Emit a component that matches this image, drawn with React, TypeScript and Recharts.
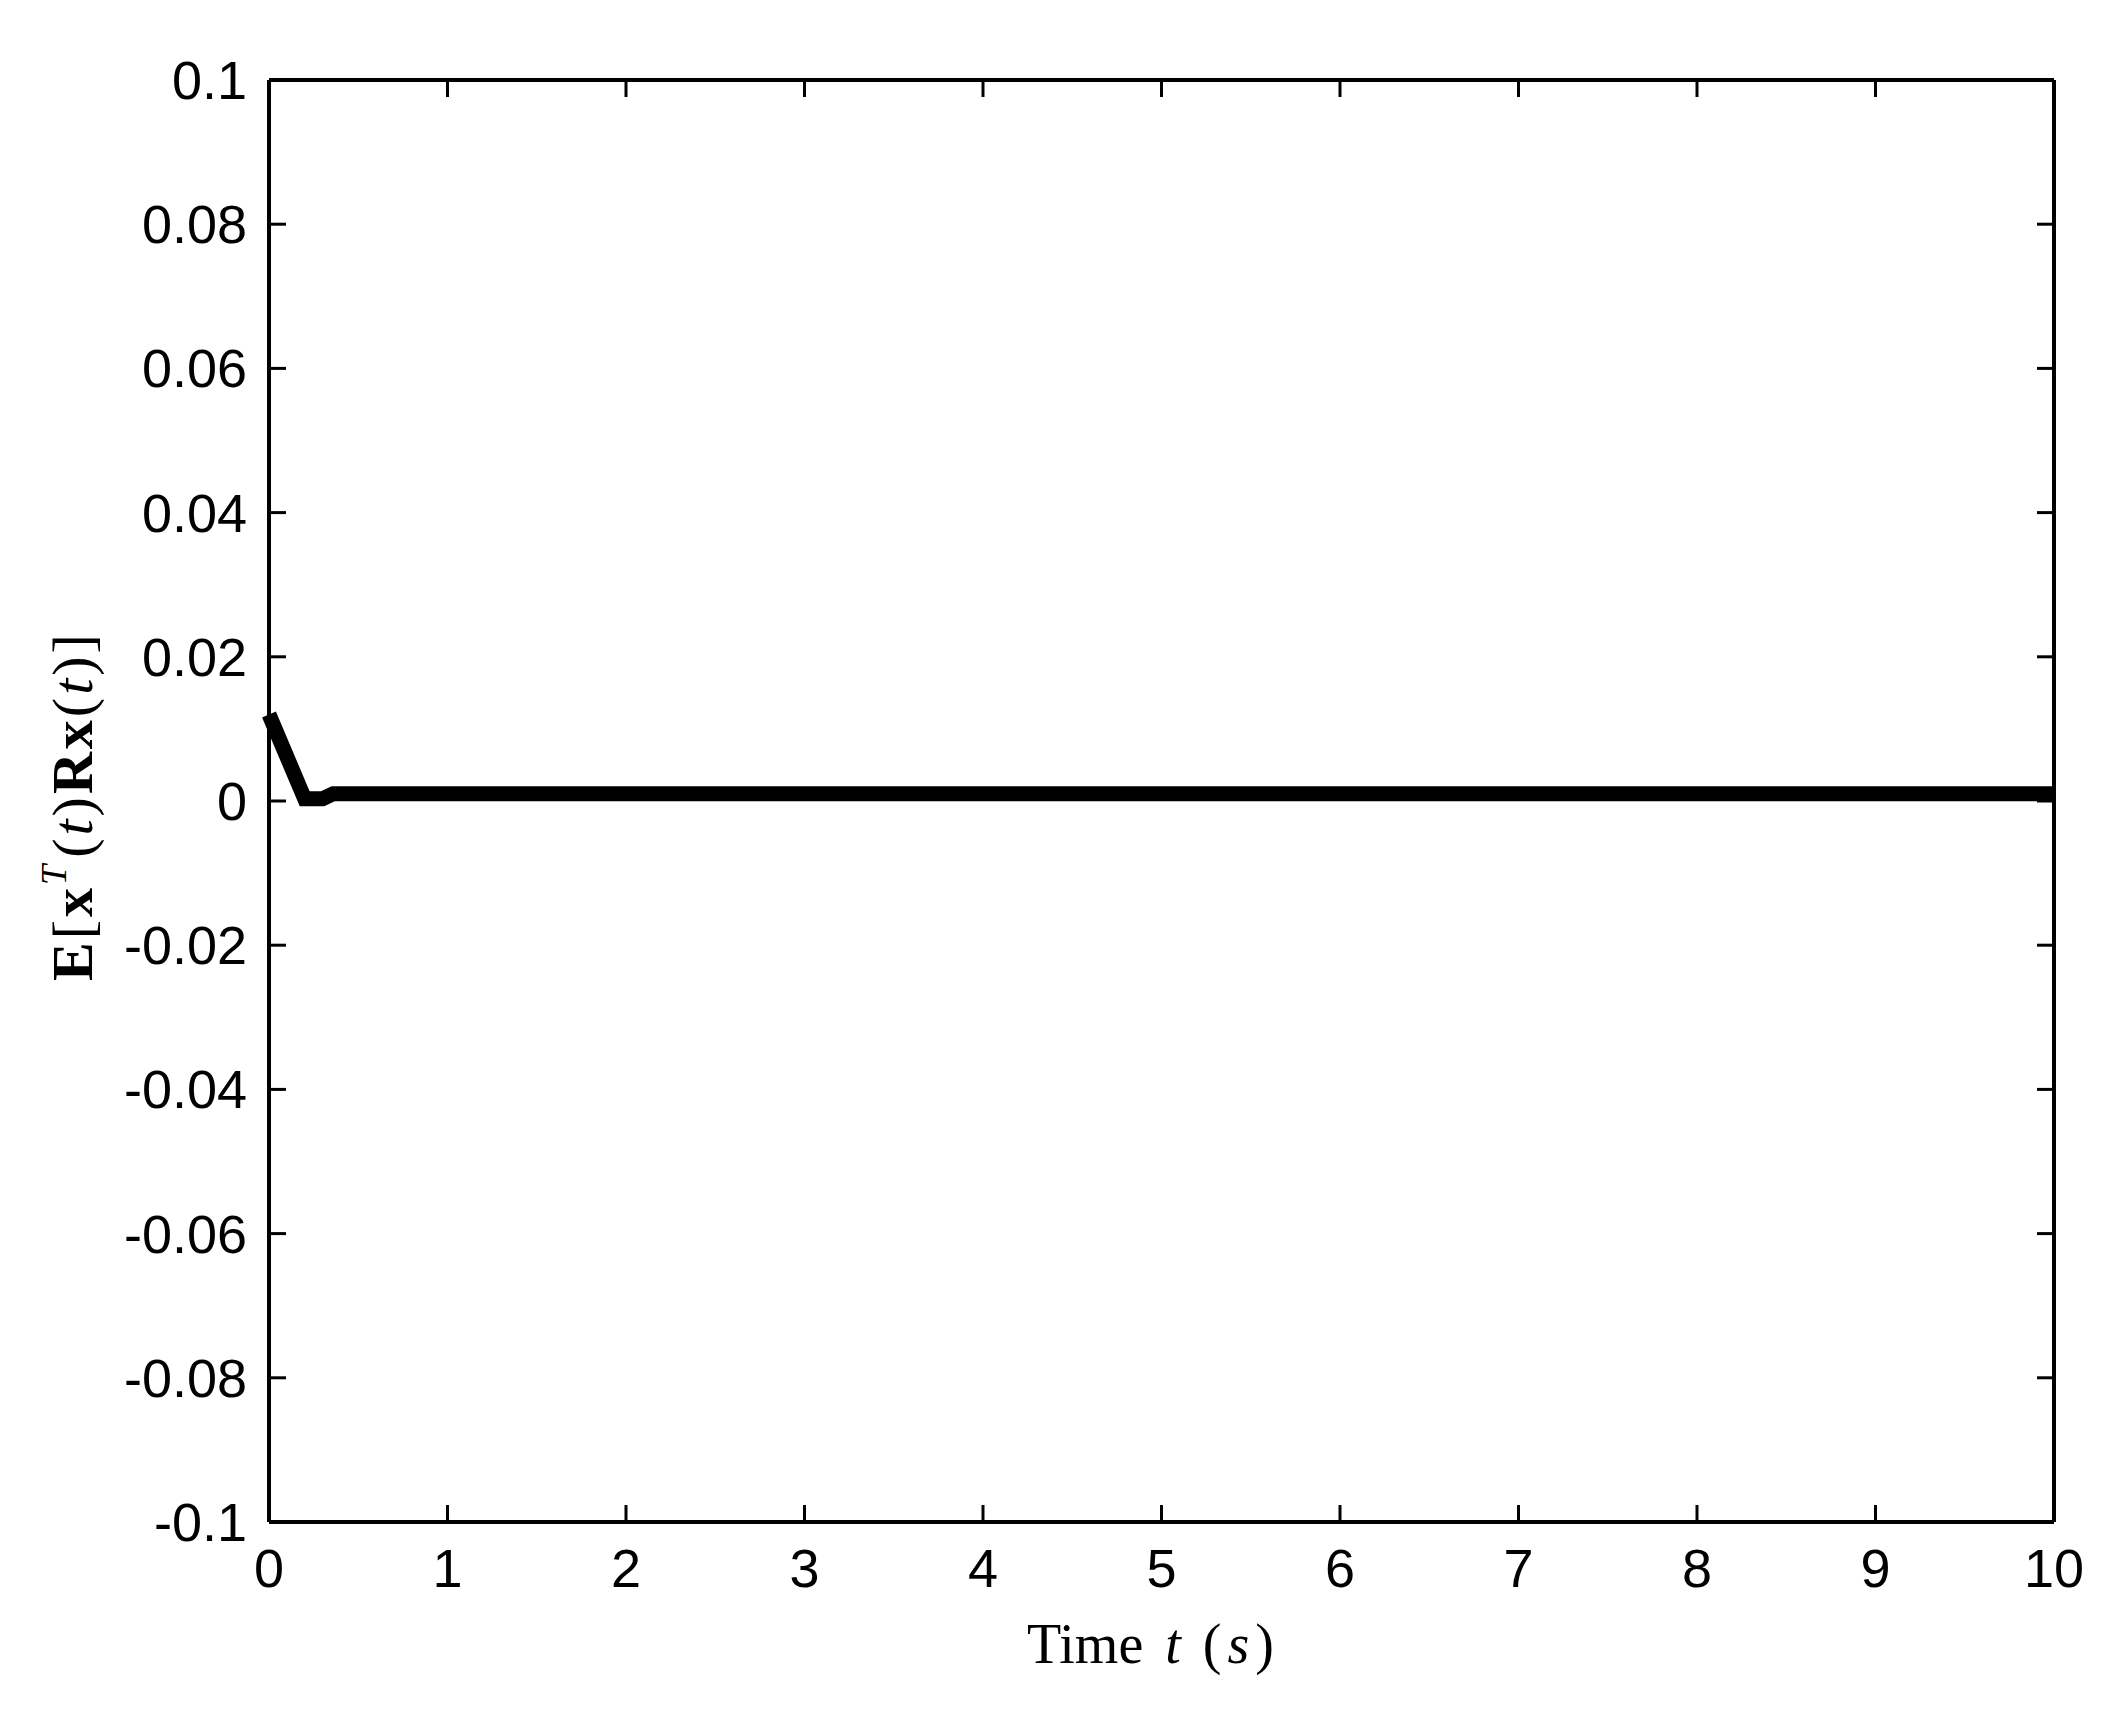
import React from "react";
import { LineChart, Line, XAxis, YAxis, Label } from "recharts";

// curve: short drop to ~0, then flat just above zero
const timeS = [0, 0.2, 0.3, 0.36, 1, 2, 3, 4, 5, 6, 7, 8, 9, 10];
const energy = [0.012, 0.0003, 0.0003, 0.001, 0.001, 0.001, 0.001, 0.001, 0.001, 0.001, 0.001, 0.001, 0.001, 0.001];
const xTicks = [0, 1, 2, 3, 4, 5, 6, 7, 8, 9, 10];
const yTicks = [-0.1, -0.08, -0.06, -0.04, -0.02, 0, 0.02, 0.04, 0.06, 0.08, 0.1];

const data = timeS.map((t, i) => ({ t, v: energy[i] }));

const TICK = 17;
const SANS = "'Liberation Sans', Arial, sans-serif";
const SERIF = "'Liberation Serif', 'Times New Roman', serif";

const BottomTick = (p: any) => (
  <g>
    <line x1={p.x} y1={p.y} x2={p.x} y2={p.y - TICK} stroke="#000" strokeWidth={3} />
    <text x={p.x} y={p.y + 65} textAnchor="middle" fontSize={54} fontFamily={SANS} fill="#000">
      {p.payload.value}
    </text>
  </g>
);

const TopTick = (p: any) => (
  <line x1={p.x} y1={p.y} x2={p.x} y2={p.y + TICK} stroke="#000" strokeWidth={3} />
);

const LeftTick = (p: any) => (
  <g>
    <line x1={p.x} y1={p.y} x2={p.x + TICK} y2={p.y} stroke="#000" strokeWidth={3} />
    <text x={p.x - 22} y={p.y + 19} textAnchor="end" fontSize={54} fontFamily={SANS} fill="#000">
      {String(p.payload.value)}
    </text>
  </g>
);

const RightTick = (p: any) => (
  <line x1={p.x} y1={p.y} x2={p.x - TICK} y2={p.y} stroke="#000" strokeWidth={3} />
);

const XTitle = (p: any) => {
  const vb = p.viewBox;
  const cx = vb.x + vb.width / 2 - 11;
  return (
    <text x={cx} y={vb.y + 141} textAnchor="middle" fontSize={56} fontFamily={SERIF} fill="#000">
      Time
      <tspan dx={22} fontStyle="italic">t</tspan>
      <tspan dx={22}>(</tspan>
      <tspan dx={6} fontStyle="italic">s</tspan>
      <tspan dx={6}>)</tspan>
    </text>
  );
};

const YTitle = (p: any) => {
  const vb = p.viewBox;
  const cx = 92;
  const cy = vb.y + vb.height / 2 + 5;
  return (
    <text
      x={cx}
      y={cy}
      transform={`rotate(-90 ${cx} ${cy})`}
      textAnchor="middle"
      fontSize={58}
      fontFamily={SERIF}
      fill="#000"
      letterSpacing={3}
    >
      <tspan fontWeight="bold">E</tspan>
      <tspan>[</tspan>
      <tspan fontWeight="bold">x</tspan>
      <tspan fontSize={36} fontStyle="italic" dy={-26}>T</tspan>
      <tspan dy={26} dx={4}>(</tspan>
      <tspan fontStyle="italic">t</tspan>
      <tspan>)</tspan>
      <tspan fontWeight="bold">Rx</tspan>
      <tspan>(</tspan>
      <tspan fontStyle="italic">t</tspan>
      <tspan>)]</tspan>
    </text>
  );
};

const frame = { stroke: "#000", strokeWidth: 4 };

export default function App() {
  return (
    <div style={{ position: "absolute", left: 0, top: 0, background: "#fff" }}>
      <LineChart width={2120} height={1724} data={data} margin={{ top: 79, right: 65, left: 0, bottom: 0 }}>
        <XAxis
          xAxisId="b"
          dataKey="t"
          type="number"
          domain={[0, 10]}
          ticks={xTicks}
          height={202}
          tickSize={0}
          tickMargin={0}
          tick={BottomTick}
          axisLine={frame}
          tickLine={false}
          interval={0}
        >
          <Label content={XTitle} />
        </XAxis>
        <XAxis
          xAxisId="t"
          orientation="top"
          dataKey="t"
          type="number"
          domain={[0, 10]}
          ticks={xTicks}
          height={1}
          tickSize={0}
          tickMargin={0}
          tick={TopTick}
          axisLine={frame}
          tickLine={false}
          interval={0}
        />
        <YAxis
          yAxisId="l"
          type="number"
          domain={[-0.1, 0.1]}
          ticks={yTicks}
          width={269}
          tickSize={0}
          tickMargin={0}
          tick={LeftTick}
          axisLine={frame}
          tickLine={false}
          interval={0}
          allowDataOverflow
        >
          <Label content={YTitle} />
        </YAxis>
        <YAxis
          yAxisId="r"
          orientation="right"
          type="number"
          domain={[-0.1, 0.1]}
          ticks={yTicks}
          width={1}
          tickSize={0}
          tickMargin={0}
          tick={RightTick}
          axisLine={frame}
          tickLine={false}
          interval={0}
          allowDataOverflow
        />
        <Line
          xAxisId="b"
          yAxisId="l"
          type="linear"
          dataKey="v"
          stroke="#000"
          strokeWidth={15}
          strokeLinecap="butt"
          strokeLinejoin="miter"
          dot={false}
          isAnimationActive={false}
        />
      </LineChart>
    </div>
  );
}
